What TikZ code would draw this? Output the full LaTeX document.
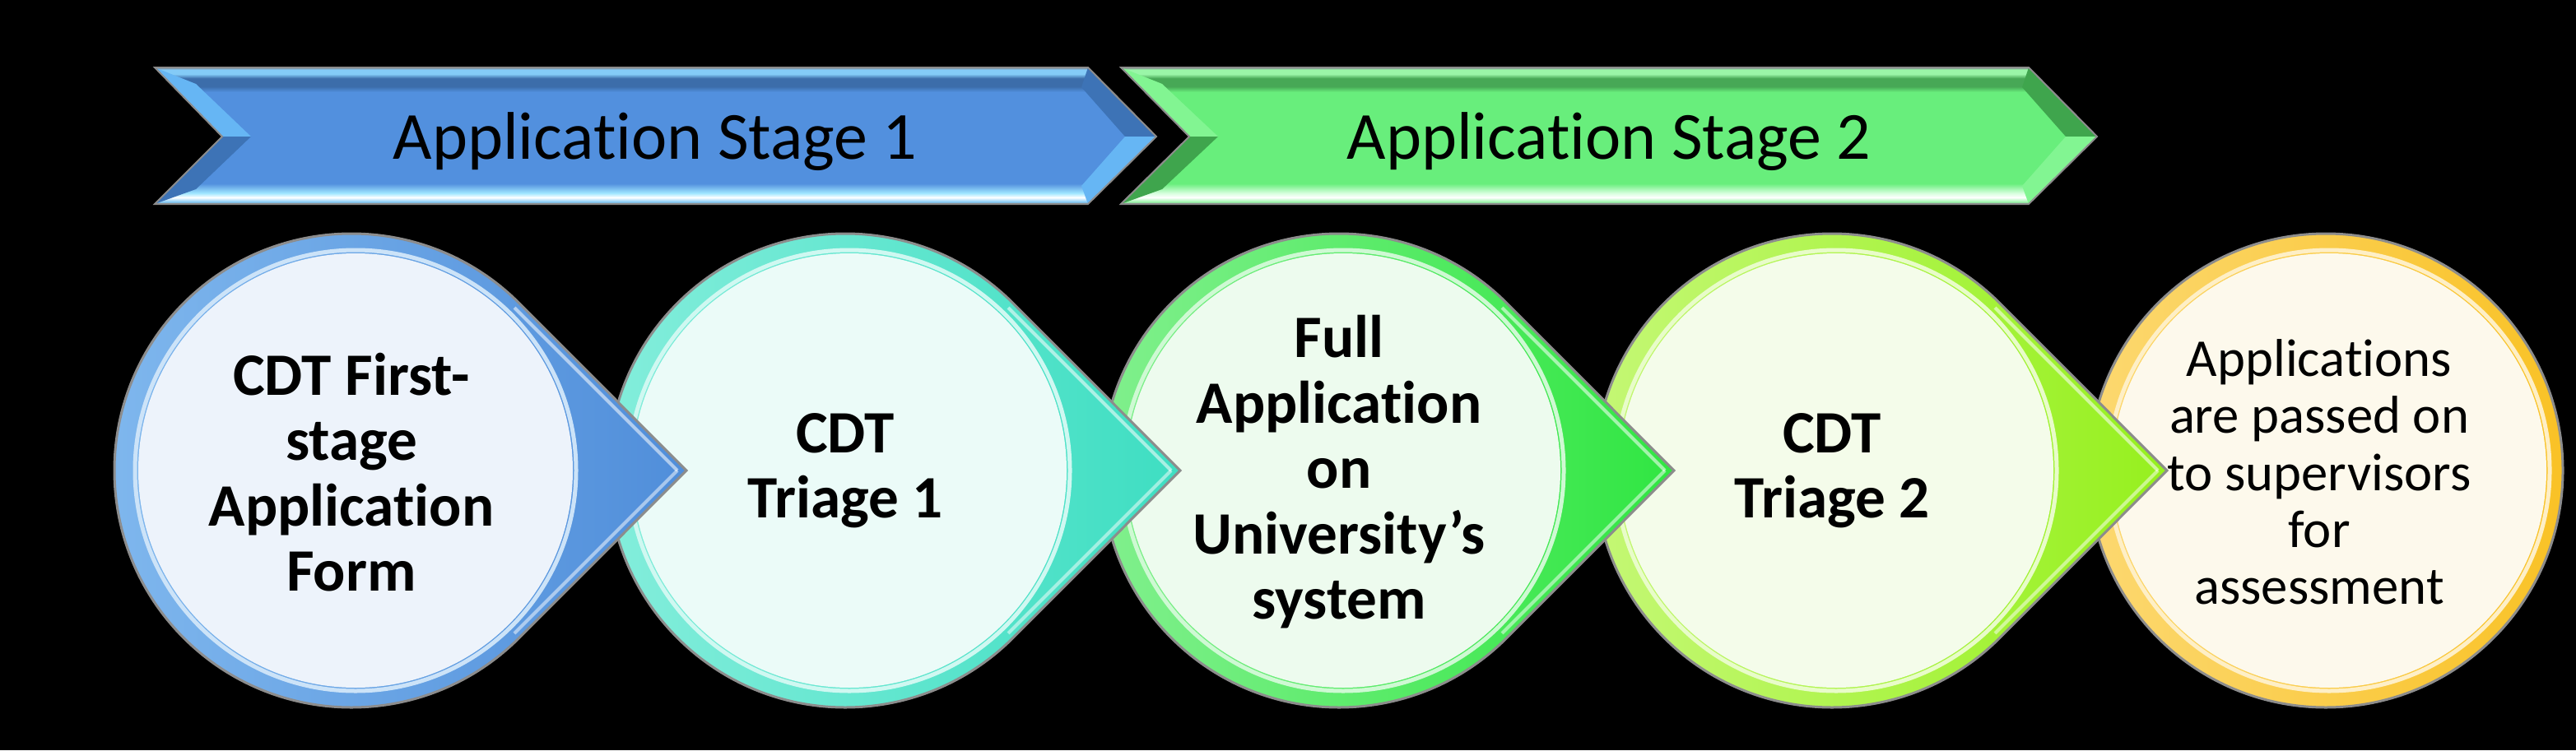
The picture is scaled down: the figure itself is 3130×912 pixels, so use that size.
\documentclass[tikz,border=0pt]{standalone}
\usepackage{fontspec}
\setmainfont{Carlito}[Ligatures=NoCommon]
\usetikzlibrary{calc}
\definecolor{cgray}{HTML}{7F8790}
\definecolor{cAmain}{HTML}{5290DE}
\definecolor{cAdark}{HTML}{3C6DAA}
\definecolor{cAhl}{HTML}{84CBF7}
\definecolor{cAbot}{HTML}{9FE6FF}
\definecolor{cAfl}{HTML}{66B6F4}
\definecolor{cAfd}{HTML}{3D73B6}
\definecolor{cBmain}{HTML}{68EE7C}
\definecolor{cBdark}{HTML}{47A856}
\definecolor{cBhl}{HTML}{9AF6A8}
\definecolor{cBbot}{HTML}{D6FFDD}
\definecolor{cBfl}{HTML}{82F592}
\definecolor{cBfd}{HTML}{3FA54D}
\definecolor{c1b}{HTML}{508EDA}
\definecolor{c1l}{HTML}{80B8EE}
\definecolor{c1p}{HTML}{EDF3FB}
\definecolor{c2b}{HTML}{3EDEC2}
\definecolor{c2l}{HTML}{86EEDC}
\definecolor{c2p}{HTML}{EBFBF8}
\definecolor{c3b}{HTML}{30E642}
\definecolor{c3l}{HTML}{84F090}
\definecolor{c3p}{HTML}{EDFBEE}
\definecolor{c4b}{HTML}{96F01E}
\definecolor{c4l}{HTML}{C6F878}
\definecolor{c4p}{HTML}{F4FCEA}
\definecolor{c5b}{HTML}{F9C226}
\definecolor{c5l}{HTML}{FCD870}
\definecolor{c5p}{HTML}{FDF9EC}
\definecolor{edgegray}{HTML}{8C8C8C}
\pgfdeclareverticalshading{chevA}{100bp}{color(0bp)=(cgray); color(25bp)=(cgray); color(25.8bp)=(cAhl); color(27.4bp)=(white); color(29bp)=(cAbot); color(32.5bp)=(cAmain); color(66bp)=(cAmain); color(68bp)=(cAdark); color(71bp)=(cAdark); color(72.6bp)=(cAhl); color(74.2bp)=(cAhl); color(75bp)=(cgray); color(100bp)=(cgray)}
\pgfdeclareverticalshading{chevB}{100bp}{color(0bp)=(cgray); color(25bp)=(cgray); color(25.8bp)=(cBhl); color(27.4bp)=(white); color(29bp)=(cBbot); color(32.5bp)=(cBmain); color(66bp)=(cBmain); color(68bp)=(cBdark); color(71bp)=(cBdark); color(72.6bp)=(cBhl); color(74.2bp)=(cBhl); color(75bp)=(cgray); color(100bp)=(cgray)}
\begin{document}
\begin{tikzpicture}[x=0.01cm,y=-0.01cm,
  px/.style={line width=#1*0.2845pt},
  chevtext/.style={font=\fontsize{23.3}{26}\selectfont, text=black, inner sep=0pt, anchor=base},
  boldtext/.style={font=\fontsize{20.8}{22.6}\selectfont\bfseries, align=center, text=black, inner sep=0pt},
  plaintext/.style={font=\fontsize{18.4}{19.7}\selectfont, align=center, text=black, inner sep=0pt}]
\useasboundingbox (0,0) rectangle (3130,912);
\fill[black] (0,0) rectangle (3130,912);

% chevron 1
\shade[shading=chevA] (188,82) -- (1322,82) -- (1405,166) -- (1322,248) -- (188,248) -- (270,166) -- cycle;
\fill[cAfl] (188,82) -- (270,166) -- (305,166) -- (238,102) -- cycle;
\fill[cAfd] (270,166) -- (188,248) -- (238,230) -- (305,166) -- cycle;
\fill[cAfd] (1322,82) -- (1405,166) -- (1367,166) -- (1314,106) -- cycle;
\fill[cAfl] (1405,166) -- (1322,248) -- (1314,226) -- (1367,166) -- cycle;
\draw[edgegray, px=2] (188,82) -- (1322,82) -- (1405,166) -- (1322,248) -- (188,248) -- (270,166) -- cycle;
% chevron 2
\shade[shading=chevB] (1362,82) -- (2465,82) -- (2548,166) -- (2465,248) -- (1362,248) -- (1445,166) -- cycle;
\fill[cBfl] (1362,82) -- (1445,166) -- (1480,166) -- (1412,102) -- cycle;
\fill[cBfd] (1445,166) -- (1362,248) -- (1412,230) -- (1480,166) -- cycle;
\fill[cBfd] (2465,82) -- (2548,166) -- (2510,166) -- (2457,106) -- cycle;
\fill[cBfl] (2548,166) -- (2465,248) -- (2457,226) -- (2510,166) -- cycle;
\draw[edgegray, px=2] (1362,82) -- (2465,82) -- (2548,166) -- (2465,248) -- (1362,248) -- (1445,166) -- cycle;

\node[chevtext] (stage1) at (796,193) {Application Stage 1};
\node[chevtext] (stage2) at (1955,193) {Application Stage 2};

% final circle (no arrow)
\shade[left color=c5l, right color=c5b, draw=edgegray, px=3] (2826,572) circle[radius=288];
\draw[c5l!40!white, px=5] (2830,572) circle[radius=268];
\fill[c5p] (2830,572) circle[radius=264];

% teardrop circles, right to left so each arrow lies on the next circle
\foreach \cx/\cb/\cl/\cp in {2226/c4b/c4l/c4p,1627/c3b/c3l/c3p,1027/c2b/c2l/c2p,427/c1b/c1l/c1p}{
  \shade[left color=\cl, right color=\cb, draw=edgegray, px=3]
    (\cx+407,572) -- ($(\cx,572)+(45:288)$) arc[start angle=45,end angle=315,radius=288] -- cycle;
  \draw[white, opacity=0.55, px=4] ($(\cx,572)+(-45:280)$) -- (\cx+396,572);
  \draw[white, opacity=0.5, px=4] ($(\cx,572)+(45:280)$) -- (\cx+396,572);
  \draw[\cl!40!white, px=5] (\cx+5,572) circle[radius=268];
  \fill[\cp] (\cx+5,572) circle[radius=264];
}

\node[boldtext] (t1) at (427,574) {CDT First-\\stage\\Application\\Form};
\node[boldtext] (t2) at (1027,572) {CDT\\Triage 1};
\node[boldtext] (t3) at (1627,574) {Full\\Application\\on\\University’s\\system};
\node[boldtext] (t4) at (2226,572) {CDT\\Triage 2};
\node[plaintext] (t5) at (2818,574) {Applications\\are passed on\\to supervisors\\for\\assessment};
\end{tikzpicture}
\end{document}
